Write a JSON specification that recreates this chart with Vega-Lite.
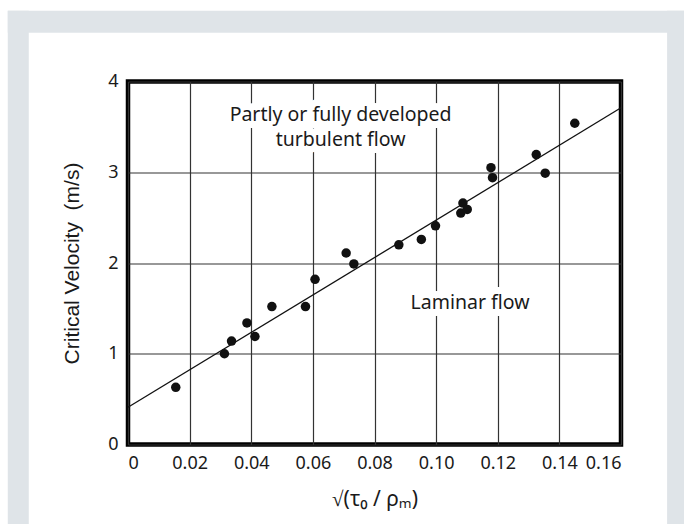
{
  "$schema": "https://vega.github.io/schema/vega-lite/v6.json",
  "width": 493,
  "height": 363,
  "autosize": {"type": "none"},
  "padding": {"left": 128, "top": 81.5, "right": 63, "bottom": 79.5},
  "background": "white",
  "config": {
    "view": {"stroke": "black", "strokeWidth": 4.5},
    "axis": {
      "labelFont": "Noto Sans",
      "labelFontSize": 18,
      "labelColor": "#1a1a1a",
      "ticks": false,
      "domain": false,
      "grid": true,
      "gridColor": "#333333",
      "gridWidth": 1.2,
      "gridOpacity": 1
    }
  },
  "datasets": {
    "points": [
      {"x": 0.0155, "v": 0.63},
      {"x": 0.0313, "v": 1.00},
      {"x": 0.0336, "v": 1.14},
      {"x": 0.0386, "v": 1.34},
      {"x": 0.0412, "v": 1.19},
      {"x": 0.0467, "v": 1.52},
      {"x": 0.0576, "v": 1.52},
      {"x": 0.0607, "v": 1.82},
      {"x": 0.0708, "v": 2.11},
      {"x": 0.0733, "v": 1.99},
      {"x": 0.0879, "v": 2.20},
      {"x": 0.0952, "v": 2.26},
      {"x": 0.0998, "v": 2.41},
      {"x": 0.1080, "v": 2.55},
      {"x": 0.1087, "v": 2.66},
      {"x": 0.1101, "v": 2.59},
      {"x": 0.1178, "v": 3.05},
      {"x": 0.1183, "v": 2.94},
      {"x": 0.1325, "v": 3.195},
      {"x": 0.1354, "v": 2.99},
      {"x": 0.1450, "v": 3.54}
    ],
    "fit": [
      {"x": 0, "v": 0.41},
      {"x": 0.16, "v": 3.71}
    ],
    "labels": [
      {"x": 0.069, "v": 3.63, "text": "Partly or fully developed"},
      {"x": 0.069, "v": 3.36, "text": "turbulent flow"},
      {"x": 0.111, "v": 1.56, "text": "Laminar flow"}
    ],
    "frame": [
      {"x": -0.03902, "x2": 0.19, "v": 4.78, "v2": 4.537},
      {"x": -0.03902, "x2": -0.0322, "v": 4.78, "v2": -1.2},
      {"x": 0.17496, "x2": 0.19, "v": 4.78, "v2": -1.2}
    ]
  },
  "encoding": {
    "x": {
      "field": "x",
      "type": "quantitative",
      "scale": {"domain": [0, 0.16], "nice": false, "zero": false},
      "axis": {
        "values": [0, 0.02, 0.04, 0.06, 0.08, 0.1, 0.12, 0.14, 0.16],
        "labelExpr": "datum.value == 0 ? '0' : format(datum.value, '.2f')",
        "labelPadding": 10,
        "title": "√(τ₀ / ρₘ)",
        "titleFont": "Noto Sans",
        "titleFontSize": 21,
        "titleFontWeight": "normal",
        "titleColor": "#1a1a1a",
        "titlePadding": 16
      }
    },
    "y": {
      "field": "v",
      "type": "quantitative",
      "scale": {"domain": [0, 4], "nice": false, "zero": false},
      "axis": {
        "values": [0, 1, 2, 3, 4],
        "format": "d",
        "labelPadding": 10,
        "title": "Critical Velocity\u00a0 (m/s)",
        "titleFont": "Liberation Sans",
        "titleFontSize": 21,
        "titleFontWeight": "normal",
        "titleColor": "#1a1a1a",
        "titlePadding": 25
      }
    }
  },
  "layer": [
    {
      "data": {"name": "frame"},
      "mark": {"type": "rect", "color": "#dfe4e8", "clip": false},
      "encoding": {
        "x2": {"field": "x2"},
        "y2": {"field": "v2"}
      }
    },
    {
      "data": {"name": "fit"},
      "mark": {"type": "line", "color": "#111111", "strokeWidth": 1.3},
      "encoding": {}
    },
    {
      "data": {"name": "points"},
      "mark": {"type": "circle", "color": "#111111", "opacity": 1, "size": 90},
      "encoding": {}
    },
    {
      "data": {"name": "labels"},
      "mark": {"type": "text", "font": "Noto Sans", "fontSize": 19.5, "fill": "white", "stroke": "white", "strokeWidth": 14, "strokeJoin": "round", "align": "center", "baseline": "middle"},
      "encoding": {"text": {"field": "text"}}
    },
    {
      "data": {"name": "labels"},
      "mark": {"type": "text", "font": "Noto Sans", "fontSize": 19.5, "color": "#1a1a1a", "align": "center", "baseline": "middle"},
      "encoding": {"text": {"field": "text"}}
    }
  ]
}
